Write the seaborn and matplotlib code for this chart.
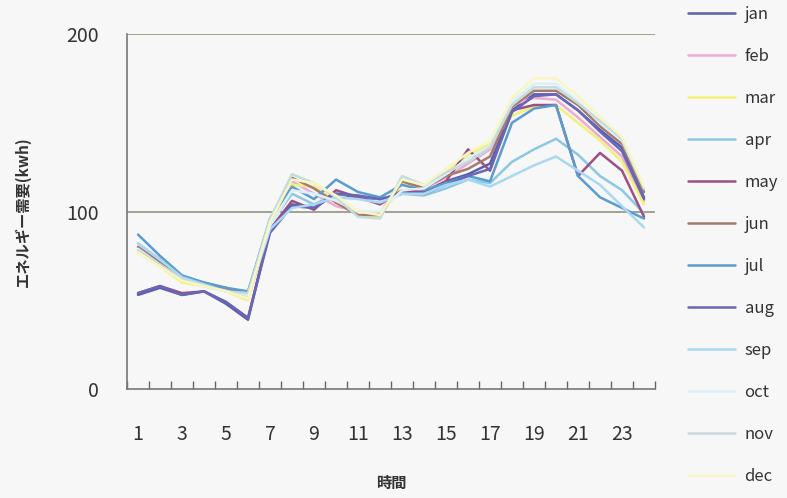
import numpy as np
import pandas as pd
import matplotlib
matplotlib.use("Agg")
import matplotlib.pyplot as plt
import seaborn as sns

hours = list(range(1, 25))
months = ["jan", "feb", "mar", "apr", "may", "jun",
          "jul", "aug", "sep", "oct", "nov", "dec"]

jan = [53, 57, 53, 55, 48, 39, 90, 104, 102, 110, 108, 107, 110, 111, 117, 121, 127, 157, 166, 166, 157, 146, 136, 108]
feb = [80, 72, 63, 59, 56, 54, 95, 117, 110, 103, 100, 99, 118, 113, 119, 127, 135, 160, 164, 163, 153, 142, 131, 106]
mar = [77, 69, 60, 58, 55, 50, 92, 115, 114, 106, 98, 97, 116, 112, 122, 132, 138, 154, 159, 160, 150, 140, 128, 104]
apr = [82, 73, 63, 60, 57, 54, 93, 110, 104, 110, 109, 107, 110, 109, 113, 118, 116, 128, 135, 141, 132, 120, 112, 99]
may = [54, 58, 54, 55, 49, 40, 90, 106, 101, 112, 108, 104, 112, 111, 117, 135, 123, 157, 160, 160, 120, 133, 123, 97]
jun = [80, 71, 62, 59, 57, 53, 94, 119, 113, 105, 98, 98, 117, 113, 120, 124, 131, 159, 168, 168, 160, 148, 138, 111]
jul = [87, 75, 64, 60, 57, 55, 96, 114, 107, 118, 111, 108, 115, 112, 116, 120, 117, 150, 158, 160, 120, 108, 102, 96]
aug = [54, 58, 53, 55, 49, 40, 88, 103, 102, 110, 109, 107, 110, 110, 115, 120, 124, 156, 165, 166, 157, 145, 134, 107]
sep = [82, 73, 63, 59, 55, 52, 90, 102, 104, 108, 107, 105, 110, 110, 115, 118, 114, 120, 126, 131, 123, 115, 103, 91]
oct = [79, 70, 62, 58, 55, 53, 92, 112, 110, 106, 100, 100, 112, 113, 121, 130, 137, 162, 172, 172, 162, 150, 140, 113]
nov = [78, 70, 62, 58, 55, 54, 96, 121, 116, 108, 97, 96, 120, 115, 122, 128, 136, 160, 170, 170, 161, 151, 141, 113]
dec = [77, 69, 61, 58, 55, 51, 94, 118, 116, 109, 100, 98, 118, 115, 124, 133, 140, 164, 175, 175, 165, 153, 142, 114]

series = [jan, feb, mar, apr, may, jun, jul, aug, sep, oct, nov, dec]

colors = {
    "jan": "#5b5fa8", "feb": "#eeaad0", "mar": "#f2f07a", "apr": "#8cc8e4",
    "may": "#9c4f86", "jun": "#a57a70", "jul": "#5a9ccf", "aug": "#6667b8",
    "sep": "#a8d8f2", "oct": "#dcf0f8", "nov": "#c4dcdc", "dec": "#f8f6c4",
}

y_ticks = [0, 100, 200]
x_tick_labels = [str(h) for h in range(1, 24, 2)]

df = pd.DataFrame({
    "時間": np.tile(hours, len(months)),
    "demand": np.concatenate(series),
    "month": np.repeat(months, len(hours)),
})

sns.set_theme(style="white")
plt.rcParams["font.family"] = ["Noto Sans CJK JP", "DejaVu Sans"]

bg = "#f7f7f7"
fig = plt.figure(figsize=(7.87, 4.98), dpi=100, facecolor=bg)
ax = fig.add_axes([0.1614, 0.2189, 0.6709, 0.7128], facecolor=bg)

for y in (100, 200):
    ax.axhline(y, color="#9a9a88", lw=1.3, zorder=0)

sns.lineplot(data=df, x="時間", y="demand", hue="month", hue_order=months,
             palette=colors, linewidth=1.8, ax=ax, legend=True)

ax.set_xlim(0.5, 24.5)
ax.set_ylim(0, 200)
ax.set_yticks(y_ticks)
ax.set_yticklabels([str(v) for v in y_ticks])
ax.set_xticks(list(range(1, 24, 2)))
ax.set_xticklabels(x_tick_labels)
ax.set_xticks(np.arange(0.5, 25, 1), minor=True)
ax.tick_params(axis="x", which="major", bottom=True, length=0, pad=25,
               labelsize=14, colors="#333333")
ax.tick_params(axis="x", which="minor", bottom=True, direction="in",
               length=6, width=1, color="#666666")
ax.tick_params(axis="y", which="major", length=0, pad=20, labelsize=14, colors="#333333")

for side in ("top", "right"):
    ax.spines[side].set_visible(False)
for side in ("left", "bottom"):
    ax.spines[side].set_color("#777777")
    ax.spines[side].set_linewidth(1.2)

ax.set_xlabel("時間", fontsize=11, fontweight="bold", color="#333333", labelpad=22)
ax.set_ylabel("エネルギー需要(kwh)", fontsize=11, fontweight="bold", color="#333333", labelpad=26)

handles, labels = ax.get_legend_handles_labels()
ax.legend(handles, labels, loc="upper left", bbox_to_anchor=(0.855, 1.018),
          bbox_transform=fig.transFigure, frameon=False, fontsize=12,
          handlelength=2.8, handletextpad=0.6, labelspacing=1.5,
          labelcolor="#333333")

fig.savefig("out.png", dpi=100, facecolor=bg)
